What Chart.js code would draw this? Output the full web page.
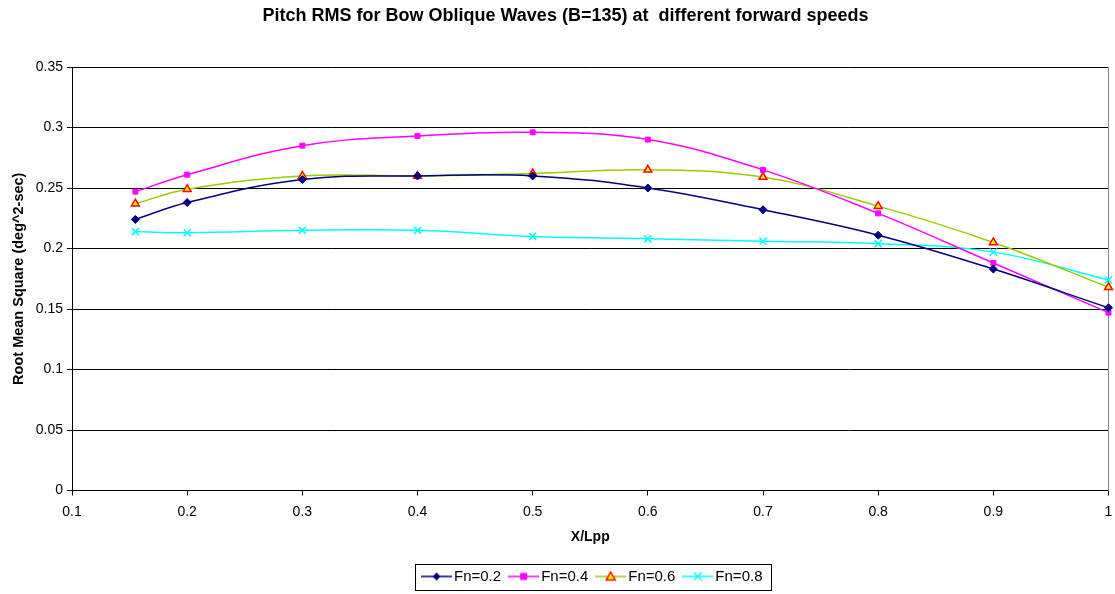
<!DOCTYPE html>
<html>
<head>
<meta charset="utf-8">
<script src="https://cdn.jsdelivr.net/npm/chart.js@4"></script>
<style>
  html, body { margin: 0; padding: 0; background: #fff; }
  #wrap { width: 1115px; height: 594px; }
</style>
</head>
<body>
<div id="wrap"><canvas id="myChart" width="1115" height="594"></canvas></div>
<script>
// X/Lpp positions
const xPos = [0.155, 0.2, 0.3, 0.4, 0.5, 0.6, 0.7, 0.8, 0.9, 1.0];
// pitch RMS per forward speed
const fn02 = [0.224, 0.238, 0.257, 0.260, 0.260, 0.250, 0.232, 0.211, 0.183, 0.151];
const fn04 = [0.247, 0.261, 0.285, 0.293, 0.296, 0.290, 0.265, 0.229, 0.188, 0.147];
const fn06 = [0.237, 0.249, 0.260, 0.260, 0.262, 0.265, 0.259, 0.235, 0.205, 0.168];
const fn08 = [0.214, 0.213, 0.215, 0.215, 0.210, 0.208, 0.206, 0.204, 0.197, 0.174];
const seriesNames = ["Fn=0.2", "Fn=0.4", "Fn=0.6", "Fn=0.8"];

const FONT = "'Liberation Sans', Arial, sans-serif";
const ICON_W = 31;   // legend line + marker picture
const BOX_W = 20;    // room the legend keeps for it
const LEGEND_SHIFT = 37; // excel centres the legend under the plot, not the page
const TITLE_SHIFT = 8;

function toPoints(ys) {
  return xPos.map((x, i) => ({ x: x, y: ys[i] }));
}

function tickText(v) {
  return String(parseFloat(Number(v).toFixed(2)));
}

// small canvas for legend: line with marker in the middle (like Excel)
function legendIcon(lineColor, drawMarker) {
  const c = document.createElement("canvas");
  c.width = ICON_W; c.height = 12;
  const g = c.getContext("2d");
  g.strokeStyle = lineColor;
  g.lineWidth = 1.5;
  g.beginPath(); g.moveTo(0, 6); g.lineTo(ICON_W, 6); g.stroke();
  drawMarker(g, ICON_W / 2, 6);
  return c;
}

const icons = [
  legendIcon("#000080", (g, x, y) => {
    g.fillStyle = "#000080";
    g.beginPath(); g.moveTo(x, y - 4); g.lineTo(x + 4, y); g.lineTo(x, y + 4); g.lineTo(x - 4, y); g.closePath(); g.fill();
  }),
  legendIcon("#FF00FF", (g, x, y) => {
    g.fillStyle = "#FF00FF";
    g.fillRect(x - 3.5, y - 3.5, 7, 7);
  }),
  legendIcon("#99CC00", (g, x, y) => {
    g.fillStyle = "#FFFF00"; g.strokeStyle = "#FF0000"; g.lineWidth = 1.5;
    g.beginPath(); g.moveTo(x, y - 4.5); g.lineTo(x + 4.5, y + 3.5); g.lineTo(x - 4.5, y + 3.5); g.closePath(); g.fill(); g.stroke();
  }),
  legendIcon("#00FFFF", (g, x, y) => {
    g.strokeStyle = "#00FFFF"; g.lineWidth = 1.5;
    g.beginPath(); g.moveTo(x - 4, y - 4); g.lineTo(x + 4, y + 4); g.moveTo(x + 4, y - 4); g.lineTo(x - 4, y + 4); g.stroke();
  })
];

// shift the legend under the plot area and draw a box round it
const legendBorder = {
  id: "legendBorder",
  afterLayout(chart) {
    if (chart.legend) {
      chart.legend.left += LEGEND_SHIFT;
      chart.legend.right += LEGEND_SHIFT;
    }
    if (chart.titleBlock) {
      chart.titleBlock.left += TITLE_SHIFT;
      chart.titleBlock.right += TITLE_SHIFT;
    }
  },
  afterDraw(chart) {
    const boxes = chart.legend && chart.legend.legendHitBoxes;
    if (!boxes || !boxes.length) return;
    const first = boxes[0], last = boxes[boxes.length - 1];
    const l = first.left + BOX_W / 2 - ICON_W / 2 - 6;
    const r = last.left + last.width + 9;
    const cy = first.top + first.height / 2;
    const ctx = chart.ctx;
    ctx.save();
    ctx.strokeStyle = "#000";
    ctx.lineWidth = 1;
    ctx.strokeRect(Math.round(l) + 0.5, Math.round(cy - 13) + 0.5, Math.round(r - l), 26);
    ctx.restore();
  }
};

const ctx = document.getElementById("myChart").getContext("2d");
new Chart(ctx, {
  type: "line",
  data: {
    datasets: [
      {
        label: seriesNames[0], data: toPoints(fn02),
        borderColor: "#000080", backgroundColor: "#000080",
        pointStyle: "rectRot", pointRadius: 4, pointBorderWidth: 1
      },
      {
        label: seriesNames[1], data: toPoints(fn04),
        borderColor: "#FF00FF", backgroundColor: "#FF00FF",
        pointStyle: "rect", pointRadius: 3.5, pointBorderWidth: 1
      },
      {
        label: seriesNames[2], data: toPoints(fn06),
        borderColor: "#99CC00", backgroundColor: "#FFFF00",
        pointStyle: "triangle", pointRadius: 4.5, pointBorderColor: "#FF0000", pointBorderWidth: 1.5
      },
      {
        label: seriesNames[3], data: toPoints(fn08),
        borderColor: "#00FFFF", backgroundColor: "#00FFFF",
        pointStyle: "crossRot", pointRadius: 5, pointBorderWidth: 1.5
      }
    ]
  },
  options: {
    responsive: false,
    animation: false,
    events: [],
    layout: { padding: { left: 0, right: 0, top: 0, bottom: 0 } },
    elements: {
      line: { borderWidth: 1.5, tension: 0.4, fill: false },
      point: { hoverRadius: 4 }
    },
    datasets: { line: { clip: false } },
    scales: {
      x: {
        type: "linear",
        min: 0.1, max: 1,
        ticks: { stepSize: 0.1, color: "#000", font: { family: FONT, size: 14 }, padding: 8, maxRotation: 0, callback: tickText },
        grid: { display: true, drawOnChartArea: false, drawTicks: true, tickLength: 5, color: "#000" },
        border: { color: "#000", width: 1 },
        title: { display: true, text: "X/Lpp", color: "#000", font: { family: FONT, size: 14, weight: "bold" }, padding: { top: 0, bottom: 11 } },
        afterFit: (scale) => { scale.height = 66; scale.paddingRight = 6; }
      },
      y: {
        min: 0, max: 0.35,
        ticks: { stepSize: 0.05, color: "#000", font: { family: FONT, size: 14 }, padding: 4, callback: tickText },
        grid: { color: "#000", lineWidth: 1, tickLength: 5 },
        border: { color: "#000", width: 1 },
        title: { display: true, text: "Root Mean Square (deg^2-sec)", color: "#000", font: { family: FONT, size: 14.5, weight: "bold" }, padding: { top: 10, bottom: 0 } },
        afterFit: (scale) => { scale.width = 72; }
      },
      y2: {
        position: "right",
        min: 0, max: 0.35,
        ticks: { display: false },
        grid: { display: false },
        border: { color: "#888", width: 1 },
        afterFit: (scale) => { scale.width = 0; }
      }
    },
    plugins: {
      title: {
        display: true,
        text: "Pitch RMS for Bow Oblique Waves (B=135) at  different forward speeds",
        color: "#000",
        font: { family: FONT, size: 18, weight: "bold" },
        padding: { top: 5, bottom: 40.4 }
      },
      legend: {
        position: "bottom",
        labels: {
          color: "#000",
          font: { family: FONT, size: 15 },
          usePointStyle: true,
          pointStyleWidth: BOX_W,
          padding: 12.5,
          generateLabels: (chart) => {
            const items = Chart.defaults.plugins.legend.labels.generateLabels(chart);
            items.forEach((it, i) => { it.pointStyle = icons[i]; });
            return items;
          }
        }
      },
      tooltip: { enabled: false }
    }
  },
  plugins: [legendBorder]
});
</script>
</body>
</html>
